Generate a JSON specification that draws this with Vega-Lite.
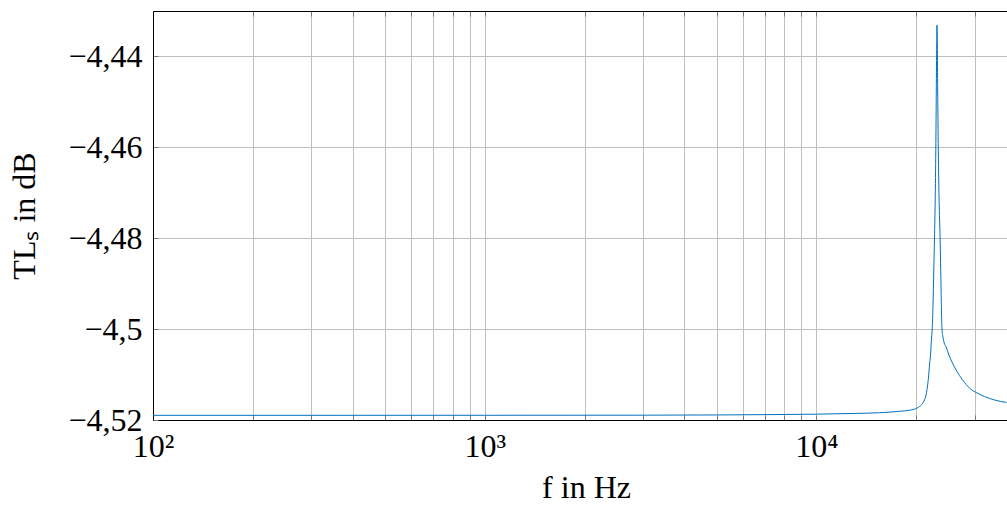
{
  "$schema": "https://vega.github.io/schema/vega-lite/v6.json",
  "width": 854,
  "height": 409,
  "autosize": {"type": "none"},
  "padding": {"left": 153, "top": 11, "right": 0, "bottom": 86},
  "background": "white",
  "config": {
    "view": {"stroke": null},
    "font": "Liberation Serif",
    "axis": {
      "domainColor": "#000000",
      "domainWidth": 1,
      "gridColor": "#bfbfbf",
      "gridWidth": 1,
      "gridOpacity": 1,
      "tickColor": "#777777",
      "tickSize": -5,
      "tickWidth": 1,
      "labelFont": "Liberation Serif",
      "labelFontSize": 32,
      "labelColor": "#000000",
      "labelPadding": 16,
      "labelFlush": false,
      "labelOverlap": false,
      "labelBound": false,
      "titleFont": "Liberation Serif",
      "titleFontSize": 32,
      "titleFontWeight": "normal",
      "titleColor": "#000000"
    }
  },
  "data": {
    "values": [
      {"f": 100, "TL": -4.51897},
      {"f": 300, "TL": -4.51897},
      {"f": 1000, "TL": -4.51896},
      {"f": 3000, "TL": -4.51894},
      {"f": 5000, "TL": -4.51889},
      {"f": 7000, "TL": -4.51882},
      {"f": 10000, "TL": -4.51872},
      {"f": 13000, "TL": -4.51856},
      {"f": 15498, "TL": -4.5184},
      {"f": 17807, "TL": -4.51809},
      {"f": 19087, "TL": -4.51785},
      {"f": 19995, "TL": -4.51747},
      {"f": 20458, "TL": -4.51703},
      {"f": 20744, "TL": -4.51666},
      {"f": 21034, "TL": -4.51604},
      {"f": 21181, "TL": -4.5156},
      {"f": 21329, "TL": -4.51495},
      {"f": 21477, "TL": -4.51396},
      {"f": 21627, "TL": -4.51253},
      {"f": 21778, "TL": -4.51055},
      {"f": 21930, "TL": -4.50791},
      {"f": 22083, "TL": -4.50571},
      {"f": 22237, "TL": -4.50198},
      {"f": 22341, "TL": -4.5},
      {"f": 22466, "TL": -4.49473},
      {"f": 22591, "TL": -4.48703},
      {"f": 22700, "TL": -4.48},
      {"f": 22811, "TL": -4.47165},
      {"f": 22906, "TL": -4.46066},
      {"f": 22986, "TL": -4.44747},
      {"f": 23050, "TL": -4.43758},
      {"f": 23098, "TL": -4.43319},
      {"f": 23147, "TL": -4.43758},
      {"f": 23211, "TL": -4.44747},
      {"f": 23308, "TL": -4.46066},
      {"f": 23437, "TL": -4.47165},
      {"f": 23600, "TL": -4.48},
      {"f": 23765, "TL": -4.49143},
      {"f": 23914, "TL": -4.5},
      {"f": 24080, "TL": -4.50176},
      {"f": 24282, "TL": -4.50308},
      {"f": 24621, "TL": -4.50396},
      {"f": 25017, "TL": -4.50549},
      {"f": 25543, "TL": -4.50703},
      {"f": 26081, "TL": -4.50835},
      {"f": 27001, "TL": -4.51022},
      {"f": 27954, "TL": -4.51176},
      {"f": 29284, "TL": -4.5133},
      {"f": 30108, "TL": -4.51385},
      {"f": 32125, "TL": -4.51484},
      {"f": 34434, "TL": -4.5156},
      {"f": 37419, "TL": -4.51615}
    ]
  },
  "layer": [
    {
      "mark": {"type": "line", "color": "#0072BD", "strokeWidth": 1, "interpolate": "monotone", "clip": true},
      "encoding": {
        "x": {
          "field": "f",
          "type": "quantitative",
          "scale": {"type": "log", "domain": [100, 37550]},
          "axis": {
            "orient": "bottom",
            "values": [100, 200, 300, 400, 500, 600, 700, 800, 900, 1000, 2000, 3000, 4000, 5000, 6000, 7000, 8000, 9000, 10000, 20000, 30000],
            "labelExpr": "datum.value == 100 ? '10²' : datum.value == 1000 ? '10³' : datum.value == 10000 ? '10⁴' : ''",
            "grid": true,
            "title": "f in Hz",
            "titleX": 433,
            "titleY": 77,
            "titleAlign": "center",
            "titleBaseline": "alphabetic"
          }
        },
        "y": {
          "field": "TL",
          "type": "quantitative",
          "scale": {"domain": [-4.52, -4.4301], "zero": false, "nice": false},
          "axis": {
            "values": [-4.52, -4.5, -4.48, -4.46, -4.44],
            "labelExpr": "replace(replace(format(datum.value, '.2~f'), '-', '−'), '.', ',')",
            "grid": true,
            "title": "TLₛ in dB",
            "titleX": -119,
            "titleY": 204.5,
            "titleAngle": -90,
            "titleAlign": "center",
            "titleBaseline": "alphabetic"
          }
        }
      }
    },
    {
      "mark": {"type": "line", "opacity": 0},
      "encoding": {
        "x": {
          "field": "f",
          "type": "quantitative",
          "scale": {"type": "log", "domain": [100, 37550]},
          "axis": {
            "orient": "top",
            "values": [100, 200, 300, 400, 500, 600, 700, 800, 900, 1000, 2000, 3000, 4000, 5000, 6000, 7000, 8000, 9000, 10000, 20000, 30000],
            "labels": false,
            "grid": false,
            "title": null
          }
        },
        "y": {"field": "TL", "type": "quantitative", "axis": null}
      }
    }
  ],
  "resolve": {"axis": {"x": "independent", "y": "independent"}}
}
